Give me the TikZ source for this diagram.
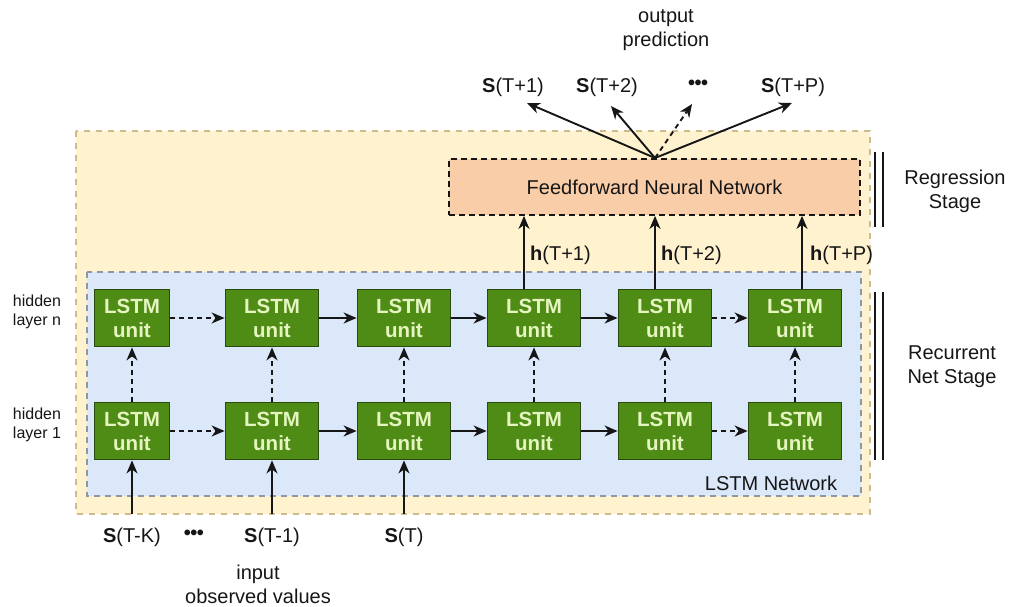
\documentclass[tikz,border=0pt]{standalone}
\usepackage{fontspec}
\setmainfont{Liberation Sans}
\usetikzlibrary{arrows.meta,calc}
\definecolor{outerfill}{HTML}{FFF2CF}
\definecolor{outerline}{HTML}{CDBB8E}
\definecolor{netfill}{HTML}{DAE8FA}
\definecolor{netline}{HTML}{8E97A2}
\definecolor{unitfill}{HTML}{4E8C16}
\definecolor{unitline}{HTML}{2A4A10}
\definecolor{unittext}{HTML}{E6F5C0}
\definecolor{ffnfill}{HTML}{F9CDA8}
\definecolor{ink}{HTML}{161616}
\tikzset{
  unit/.style={draw=unitline, line width=1.8pt, fill=unitfill, text=unittext,
    minimum width=93pt, minimum height=57pt, inner sep=0pt, align=center,
    font=\fontsize{20.5}{24}\selectfont\bfseries},
  lbl/.style={text=ink, font=\fontsize{20}{24}\selectfont, inner sep=0pt, align=center},
  small/.style={text=ink, font=\fontsize{16}{19}\selectfont, inner sep=0pt, align=center},
  link/.style={draw=ink, line width=1.9pt, -{Stealth[length=13pt,width=11pt,inset=4pt]}},
  dlink/.style={link, dash pattern=on 5pt off 4pt},
  stage/.style={draw=ink, line width=1.6pt},
}
\begin{document}
\begin{tikzpicture}[x=1pt,y=-1pt]
\useasboundingbox (0,0) rectangle (1009,607);

% background panels
\draw[fill=outerfill, draw=outerline, line width=1.2pt, dash pattern=on 6pt off 6pt]
  (76,131) rectangle (870,514);
\draw[fill=netfill, draw=netline, line width=1.4pt, dash pattern=on 6pt off 5pt]
  (87,272) rectangle (861,496);
\node[lbl] (netlbl) at (771,483) {LSTM Network};

% feedforward block
\node[draw=ink, line width=1.8pt, dash pattern=on 6pt off 4pt, fill=ffnfill,
  minimum width=411pt, minimum height=56pt, lbl] (ffn) at (654.5,187)
  {Feedforward Neural Network};

% LSTM units: top layer (t) and bottom layer (b)
\node[unit, minimum width=75pt] (t1) at (132,318) {LSTM\\unit};
\node[unit] (t2) at (272,318) {LSTM\\unit};
\node[unit] (t3) at (404,318) {LSTM\\unit};
\node[unit] (t4) at (534,318) {LSTM\\unit};
\node[unit] (t5) at (665,318) {LSTM\\unit};
\node[unit] (t6) at (795,318) {LSTM\\unit};
\node[unit, minimum width=75pt] (b1) at (132,431) {LSTM\\unit};
\node[unit] (b2) at (272,431) {LSTM\\unit};
\node[unit] (b3) at (404,431) {LSTM\\unit};
\node[unit] (b4) at (534,431) {LSTM\\unit};
\node[unit] (b5) at (665,431) {LSTM\\unit};
\node[unit] (b6) at (795,431) {LSTM\\unit};

% recurrence along each layer
\draw[dlink] (t1) -- (t2);
\draw[link] (t2) -- (t3);
\draw[link] (t3) -- (t4);
\draw[link] (t4) -- (t5);
\draw[dlink] (t5) -- (t6);
\draw[dlink] (b1) -- (b2);
\draw[link] (b2) -- (b3);
\draw[link] (b3) -- (b4);
\draw[link] (b4) -- (b5);
\draw[dlink] (b5) -- (b6);

% stacking between layers
\foreach \i in {1,...,6} {
  \draw[dlink] (b\i) -- (t\i);
}

% inputs
\coordinate (in1) at (132,514);
\coordinate (in2) at (272,514);
\coordinate (in3) at (404,514);
\draw[link] (in1) -- (b1);
\draw[link] (in2) -- (b2);
\draw[link] (in3) -- (b3);
\node[lbl] (sk) at (132,537) {\textbf{S}(T-K)};
\node[lbl] (sdots) at (194,535) {\textbf{\textbullet\kern-0.5pt\textbullet\kern-0.5pt\textbullet}};
\node[lbl] (s1) at (272,537) {\textbf{S}(T-1)};
\node[lbl] (s0) at (404,537) {\textbf{S}(T)};
\node[lbl] (inlbl) at (258,584) {input\\observed values};

% hidden states into the feedforward block
\coordinate (h1s) at ($(t4.north)+(-10,0)$);
\coordinate (h2s) at ($(t5.north)+(-10,0)$);
\coordinate (h3s) at ($(t6.north)+(7,0)$);
\draw[link] (h1s) -- (h1s |- ffn.south);
\draw[link] (h2s) -- (h2s |- ffn.south);
\draw[link] (h3s) -- (h3s |- ffn.south);
\node[lbl, anchor=west] (h1) at (530,255) {\textbf{h}(T+1)};
\node[lbl, anchor=west] (h2) at (661,255) {\textbf{h}(T+2)};
\node[lbl, anchor=west] (h3) at (810,255) {\textbf{h}(T+P)};

% outputs
\coordinate (fo) at (655,158);
\coordinate (o1) at (527,103);
\coordinate (o2) at (611,106);
\coordinate (o3) at (692,104);
\coordinate (o4) at (792,103);
\draw[link] (fo) -- (o1);
\draw[link] (fo) -- (o2);
\draw[dlink] (fo) -- (o3);
\draw[link] (fo) -- (o4);
\node[lbl] (p1) at (513,87) {\textbf{S}(T+1)};
\node[lbl] (p2) at (607,87) {\textbf{S}(T+2)};
\node[lbl] (pdots) at (698,85) {\textbf{\textbullet\kern-0.5pt\textbullet\kern-0.5pt\textbullet}};
\node[lbl] (p4) at (793,87) {\textbf{S}(T+P)};
\node[lbl] (outlbl) at (666,30) {output\\prediction};

% layer names
\node[small] (ln) at (37,312) {hidden\\layer n};
\node[small] (l1) at (37,425) {hidden\\layer 1};

% stage brackets
\coordinate (ra) at (875,152);
\coordinate (rb) at (875,227);
\coordinate (rc) at (883,152);
\coordinate (rd) at (883,227);
\draw[stage] (ra) -- (rb);
\draw[stage] (rc) -- (rd);
\node[lbl] (reg) at (955,191) {Regression\\Stage};
\coordinate (na) at (875,292);
\coordinate (nb) at (875,460);
\coordinate (nc) at (883,292);
\coordinate (nd) at (883,460);
\draw[stage] (na) -- (nb);
\draw[stage] (nc) -- (nd);
\node[lbl] (rec) at (952,367) {Recurrent\\Net Stage};
\end{tikzpicture}
\end{document}
